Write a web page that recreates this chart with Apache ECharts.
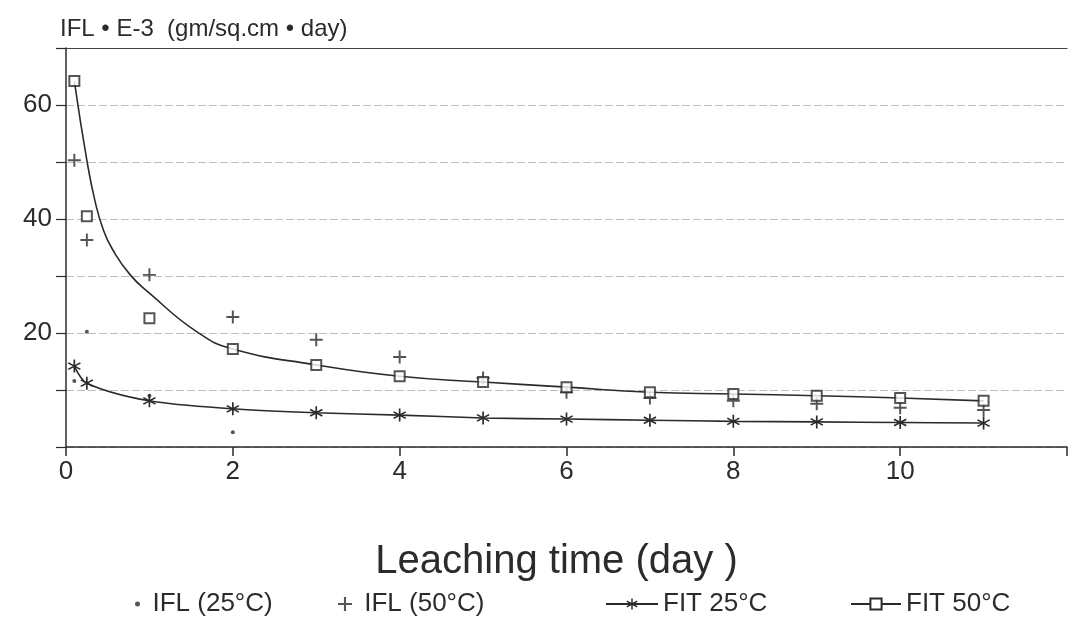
<!DOCTYPE html>
<html>
<head>
<meta charset="utf-8">
<title>Leaching time</title>
<script src="https://cdn.jsdelivr.net/npm/echarts@6/dist/echarts.min.js"></script>
<style>
  html, body { margin: 0; padding: 0; background: #fff; }
  #chart { width: 1070px; height: 617px; }
</style>
</head>
<body>
<div id="chart"></div>
<script>
// sampling days (leaching time)
const days = [0.1, 0.25, 1, 2, 3, 4, 5, 6, 7, 8, 9, 10, 11]
// fitted values, 25 C (stars) and 50 C (squares)
const fit25 = [14.2, 11.2, 8.1, 6.7, 6.0, 5.6, 5.1, 4.9, 4.7, 4.5, 4.4, 4.3, 4.2]
const fit50 = [64.2, 40.5, 22.6, 17.2, 14.4, 12.4, 11.4, 10.5, 9.6, 9.3, 9.0, 8.6, 8.1]
// measured IFL at 50 C (+)
const ifl50 = [50.3, 36.3, 30.2, 22.8, 18.8, 15.8, 12.1, 9.6, 8.6, 8.1, 7.6, 6.9, 6.5]
// measured IFL at 25 C (dots), only the visible ones
const ifl25Days = [0.1, 0.25, 1, 2]
const ifl25 = [11.6, 20.2, 9.0, 2.6]
// the drawn 50 C fit curve
const curve50Days = [0.1, 0.25, 0.35, 0.45, 0.56, 0.77, 1, 1.57, 2, 3, 4, 5, 6, 7, 8, 9, 10, 11]
const curve50 = [64.2, 50.3, 43, 38, 34.6, 30.2, 27, 20.2, 17.2, 14.4, 12.4, 11.4, 10.5, 9.6, 9.3, 9.0, 8.6, 8.1]
const xTicks = [0, 2, 4, 6, 8, 10]
const yTicks = [20, 40, 60]

const ink = '#2b2b2b'
const font = 'Liberation Sans, Arial, sans-serif'
const zip = (xs, ys) => xs.map((x, i) => [x, ys[i]])

const plusPath = 'path://M-1.5,-10h3v8.5h8.5v3h-8.5v8.5h-3v-8.5h-8.5v-3h8.5z'
const starPath = 'path://M-1.2,-10L1.2,-10L1.2,10L-1.2,10Z' +
  'M8.06,-6.04L9.26,-3.96L-8.06,6.04L-9.26,3.96Z' +
  'M-9.26,-3.96L-8.06,-6.04L9.26,3.96L8.06,6.04Z'

const chart = echarts.init(document.getElementById('chart'))

const legendBase = {
  top: 586,
  orient: 'horizontal',
  textStyle: { color: ink, fontSize: 26, fontFamily: font },
  selectedMode: false
}

chart.setOption({
  backgroundColor: '#fff',
  animation: false,
  title: {
    text: 'IFL • E-3  (gm/sq.cm • day)',
    left: 55,
    top: 12,
    textStyle: { color: ink, fontSize: 24, fontWeight: 'normal', fontFamily: font }
  },
  grid: { left: 66, right: 0, top: 48, bottom: 170 },
  legend: [
    { ...legendBase, left: 130, itemWidth: 20, itemHeight: 5, data: ['IFL (25°C)'] },
    { ...legendBase, left: 333, itemWidth: 14, itemHeight: 14, data: ['IFL (50°C)'], formatter: ' {name}' },
    { ...legendBase, left: 600, itemWidth: 52, itemHeight: 14, data: ['FIT 25°C'] },
    { ...legendBase, left: 845, itemWidth: 50, itemHeight: 14, data: ['FIT 50°C'] }
  ],
  xAxis: [
    {
      type: 'value',
      min: 0,
      max: 12,
      interval: 2,
      name: 'Leaching time (day )',
      nameLocation: 'middle',
      nameGap: 95,
      nameTextStyle: { color: ink, fontSize: 40, fontFamily: font, padding: [0, 20, 0, 0] },
      axisLine: { show: true, lineStyle: { color: ink, width: 1.5 } },
      axisTick: { show: true, length: 9, lineStyle: { color: ink, width: 1.5 } },
      axisLabel: {
        color: ink, fontSize: 26, fontFamily: font, margin: 12,
        formatter: v => xTicks.includes(v) ? String(v) : ''
      },
      splitLine: { show: false }
    },
    {
      // solid frame line along the top of the plot
      type: 'value',
      position: 'top',
      min: 0,
      max: 12,
      interval: 2,
      axisLine: { show: true, lineStyle: { color: '#444', width: 1.2 } },
      axisTick: { show: false },
      axisLabel: { show: false },
      splitLine: { show: false }
    }
  ],
  yAxis: {
    type: 'value',
    min: 0,
    max: 70,
    interval: 10,
    axisLine: { show: true, lineStyle: { color: ink, width: 1.5 } },
    axisTick: { show: true, length: 10, lineStyle: { color: ink, width: 1.2 } },
    axisLabel: {
      color: ink, fontSize: 26, fontFamily: font, margin: 14,
      formatter: v => yTicks.includes(v) ? String(v) : ''
    },
    splitLine: {
      show: true,
      lineStyle: { color: '#bdbdbd', type: [8, 3], width: 1 }
    }
  },
  series: [
    {
      name: 'IFL (25°C)',
      type: 'scatter',
      data: zip(ifl25Days, ifl25),
      symbol: 'circle',
      symbolSize: 4,
      itemStyle: { color: ink },
      z: 5
    },
    {
      name: 'IFL (50°C)',
      type: 'scatter',
      data: zip(days, ifl50),
      symbol: plusPath,
      symbolSize: 13,
      itemStyle: { color: ink },
      z: 5
    },
    {
      name: 'FIT 25°C',
      type: 'line',
      data: zip(days, fit25),
      smooth: 0.3,
      symbol: starPath,
      symbolSize: 13,
      lineStyle: { color: ink, width: 1.6 },
      itemStyle: { color: ink },
      z: 4
    },
    {
      name: 'FIT 50°C',
      type: 'line',
      data: zip(curve50Days, curve50),
      smooth: 0.5,
      showSymbol: false,
      symbol: 'emptyRect',
      lineStyle: { color: ink, width: 1.6 },
      itemStyle: { color: ink },
      z: 3
    },
    {
      name: 'FIT 50°C',
      type: 'scatter',
      data: zip(days, fit50),
      symbol: 'emptyRect',
      symbolSize: 10,
      itemStyle: { color: ink, borderColor: ink, borderWidth: 1.5 },
      z: 6
    }
  ]
})
</script>
</body>
</html>
